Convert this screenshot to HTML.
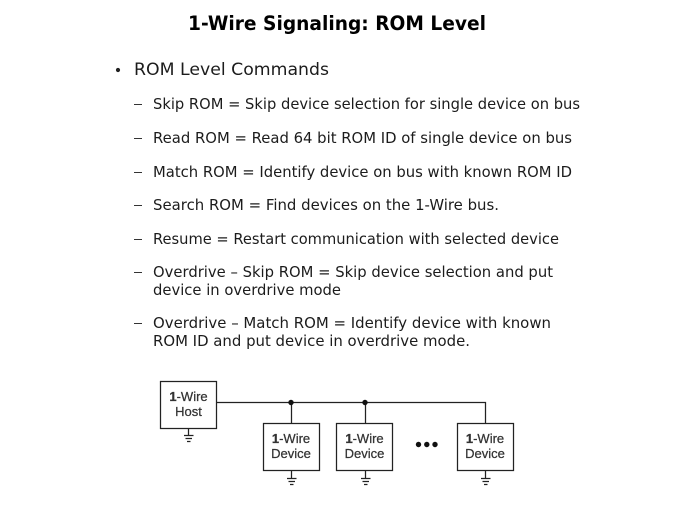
<!DOCTYPE html>
<html><head><meta charset="utf-8"><style>
html,body{margin:0;padding:0;background:#fff;width:674px;height:506px;overflow:hidden}
svg{display:block}
.b{font-family:"DejaVu Sans",sans-serif;font-size:15px;fill:#1c1c1c}
.s{font-family:"Liberation Sans",sans-serif;font-size:13px;fill:#333;stroke:#333;stroke-width:.25px}
</style></head><body>
<svg width="674" height="506" viewBox="0 0 674 506" xmlns="http://www.w3.org/2000/svg">
<text x="188" y="30" font-family="DejaVu Sans, sans-serif" font-weight="bold" font-size="19.5" fill="#000" textLength="298" lengthAdjust="spacingAndGlyphs">1-Wire Signaling: ROM Level</text>
<circle cx="118" cy="70" r="2.1" fill="#222"/>
<text class="b" x="134" y="75" style="font-size:16.5px" textLength="195" lengthAdjust="spacingAndGlyphs">ROM Level Commands</text>
<g fill="#333">
<rect x="134" y="104" width="8" height="1"/><rect x="134" y="138" width="8" height="1"/><rect x="134" y="172" width="8" height="1"/><rect x="134" y="205" width="8" height="1"/><rect x="134" y="239" width="8" height="1"/><rect x="134" y="272" width="8" height="1"/><rect x="134" y="323" width="8" height="1"/>
</g>
<text class="b" x="153" y="109" textLength="427" lengthAdjust="spacingAndGlyphs">Skip ROM = Skip device selection for single device on bus</text>
<text class="b" x="153" y="143" textLength="419" lengthAdjust="spacingAndGlyphs">Read ROM = Read 64 bit ROM ID of single device on bus</text>
<text class="b" x="153" y="177" textLength="419" lengthAdjust="spacingAndGlyphs">Match ROM = Identify device on bus with known ROM ID</text>
<text class="b" x="153" y="210" textLength="346" lengthAdjust="spacingAndGlyphs">Search ROM = Find devices on the 1-Wire bus.</text>
<text class="b" x="153" y="244" textLength="406" lengthAdjust="spacingAndGlyphs">Resume = Restart communication with selected device</text>
<text class="b" x="153" y="277" textLength="400" lengthAdjust="spacingAndGlyphs">Overdrive – Skip ROM = Skip device selection and put</text>
<text class="b" x="153" y="295" textLength="188" lengthAdjust="spacingAndGlyphs">device in overdrive mode</text>
<text class="b" x="153" y="328" textLength="398" lengthAdjust="spacingAndGlyphs">Overdrive – Match ROM = Identify device with known</text>
<text class="b" x="153" y="346" textLength="317" lengthAdjust="spacingAndGlyphs">ROM ID and put device in overdrive mode.</text>
<g fill="none" stroke="#222" stroke-width="1.25">
<path d="M216.5 402.5H485.5V423.5"/>
<path d="M291.5 402.5V423.5M365.5 402.5V423.5"/>
<rect x="160.5" y="381.5" width="56" height="47"/>
<rect x="263.5" y="423.5" width="56" height="47"/>
<rect x="336.5" y="423.5" width="56" height="47"/>
<rect x="457.5" y="423.5" width="56" height="47"/>
<path d="M188.5 429V435.5M184 435.5H193.5M185.5 438.5H192M187 441.5H190.5"/>
<path d="M291.5 471V478.5M287 478.5H296.5M288.5 481.5H295M290 484.5H293.5"/>
<path d="M365.5 471V478.5M361 478.5H370.5M362.5 481.5H369M364 484.5H367.5"/>
<path d="M485.5 471V478.5M481 478.5H490.5M482.5 481.5H489M484 484.5H487.5"/>
</g>
<g fill="#111">
<circle cx="291" cy="402.5" r="2.7"/><circle cx="365" cy="402.5" r="2.7"/>
<circle cx="418.5" cy="444.5" r="2.7"/><circle cx="426.8" cy="444.5" r="2.7"/><circle cx="435" cy="444.5" r="2.7"/>
</g>
<text class="s" x="188.5" y="401" text-anchor="middle"><tspan font-weight="bold">1</tspan>-Wire</text>
<text class="s" x="188.5" y="416" text-anchor="middle">Host</text>
<text class="s" x="291" y="443" text-anchor="middle"><tspan font-weight="bold">1</tspan>-Wire</text>
<text class="s" x="291" y="458" text-anchor="middle">Device</text>
<text class="s" x="364.5" y="443" text-anchor="middle"><tspan font-weight="bold">1</tspan>-Wire</text>
<text class="s" x="364.5" y="458" text-anchor="middle">Device</text>
<text class="s" x="485" y="443" text-anchor="middle"><tspan font-weight="bold">1</tspan>-Wire</text>
<text class="s" x="485" y="458" text-anchor="middle">Device</text>
</svg>
</body></html>
